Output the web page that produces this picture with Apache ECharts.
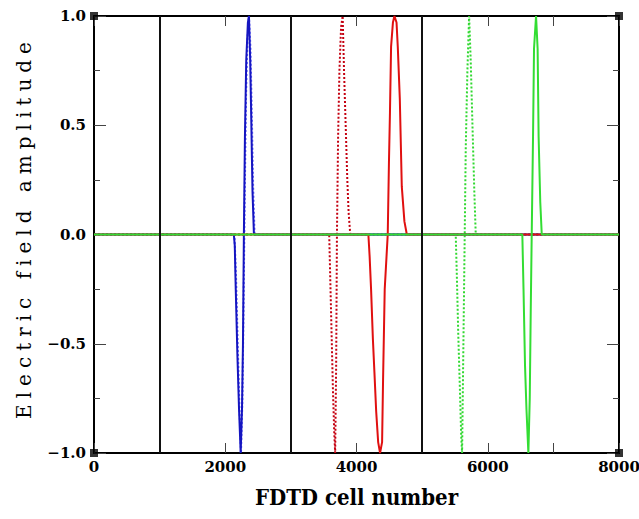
<!DOCTYPE html>
<html><head><meta charset="utf-8">
<script src="https://cdn.jsdelivr.net/npm/echarts@6/dist/echarts.min.js"></script>
<style>html,body{margin:0;padding:0;background:#fff}#c{width:639px;height:519px}</style>
</head><body><div id="c"></div>
<script>
const xMin = 0, xMax = 8000, yMin = -1, yMax = 1;
const xTitle = 'FDTD cell number';
const yTitle = 'Electric field amplitude';
const boundaries = [1000, 3000, 5000];
const corners = [[0, 1], [8000, 1], [0, -1], [8000, -1]];

const blueSolidX = [2131, 2145, 2160, 2185, 2210, 2235, 2255, 2270, 2284, 2300, 2320, 2345, 2361, 2380, 2395, 2415, 2437];
const blueSolidY = [0, -0.05, -0.25, -0.55, -0.8, -1.0, -0.8, -0.5, 0, 0.45, 0.8, 0.97, 1.0, 0.8, 0.55, 0.2, 0];
const blueDotX = [2140, 2165, 2190, 2215, 2240, 2262, 2280, 2298, 2318, 2340, 2362, 2385, 2405, 2425, 2447];
const blueDotY = [0, -0.2, -0.5, -0.78, -1.0, -0.75, -0.3, 0.2, 0.65, 0.9, 1.0, 0.85, 0.55, 0.22, 0];
const redDotX = [3584, 3600, 3620, 3640, 3660, 3675, 3690, 3702, 3720, 3740, 3765, 3789, 3810, 3835, 3860, 3880, 3905];
const redDotY = [0, -0.2, -0.45, -0.7, -0.9, -1.0, -0.6, 0, 0.45, 0.75, 0.95, 1.0, 0.75, 0.5, 0.25, 0.1, 0];
const redSolidX = [4181, 4200, 4222, 4250, 4273, 4300, 4330, 4359, 4390, 4405, 4430, 4476, 4495, 4510, 4527, 4555, 4578, 4610, 4629, 4660, 4690, 4730, 4767];
const redSolidY = [0, -0.1, -0.25, -0.48, -0.63, -0.81, -0.95, -1.0, -0.95, -0.66, -0.25, 0, 0.34, 0.56, 0.86, 0.97, 1.0, 0.97, 0.86, 0.62, 0.22, 0.06, 0];
const greenDotX = [5512, 5530, 5550, 5575, 5595, 5609, 5625, 5649, 5665, 5690, 5716, 5740, 5767, 5795, 5817];
const greenDotY = [0, -0.2, -0.45, -0.7, -0.92, -1.0, -0.6, 0, 0.4, 0.75, 1.0, 0.8, 0.5, 0.2, 0];
const greenSolidX = [6527, 6545, 6568, 6590, 6619, 6640, 6655, 6670, 6690, 6705, 6736, 6760, 6775, 6800, 6823];
const greenSolidY = [0, -0.25, -0.6, -0.8, -1.0, -0.75, -0.35, 0, 0.45, 0.85, 1.0, 0.85, 0.45, 0.15, 0];

function pts(xs, ys) {
  const d = [[xMin, 0]];
  xs.forEach((x, i) => d.push([x, ys[i]]));
  d.push([xMax, 0]);
  return d;
}

const chart = echarts.init(document.getElementById('c'), null, {renderer: 'svg'});
const lab = {fontFamily: 'DejaVu Serif', fontWeight: 'bold', fontSize: 15, color: '#000'};
const tickStyle = {color: '#444', width: 1};

function xAx(pos, main) {
  return {
    type: 'value', min: xMin, max: xMax, interval: 2000, position: pos,
    axisLine: {onZero: false, lineStyle: {color: '#000', width: 2}},
    axisTick: {inside: true, length: 10, lineStyle: tickStyle},
    minorTick: {show: true, splitNumber: 2, length: 10, lineStyle: tickStyle},
    splitLine: {show: false}, minorSplitLine: {show: false},
    axisLabel: main ? Object.assign({margin: 6, formatter: v => String(v)}, lab) : {show: false},
    name: main ? xTitle : '', nameLocation: 'middle', nameGap: 33,
    nameTextStyle: {fontFamily: 'DejaVu Serif Condensed, DejaVu Serif', fontWeight: 'bold', fontSize: 22, color: '#000'}
  };
}
function yAx(pos, main) {
  return {
    type: 'value', min: yMin, max: yMax, interval: 0.5, position: pos,
    axisLine: {onZero: false, lineStyle: {color: '#000', width: 2}},
    axisTick: {inside: true, length: 12, lineStyle: tickStyle},
    minorTick: {show: true, splitNumber: 2, length: 6, lineStyle: tickStyle},
    splitLine: {show: false}, minorSplitLine: {show: false},
    axisLabel: main ? Object.assign({margin: 8, formatter: v => v.toFixed(1).replace('-', '\u2212')}, lab) : {show: false},
    name: main ? yTitle : '', nameLocation: 'middle', nameGap: 60,
    nameTextStyle: {fontFamily: 'DejaVu Serif', fontSize: 20, color: '#000', padding: [0, 0, 0, 14]}
  };
}

function wave(data, color, type, width, z) {
  return {type: 'line', data: data, symbol: 'none', z: z, silent: true,
    lineStyle: {color: color, type: type, width: width}};
}

chart.setOption({
  animation: false,
  grid: {left: 94, right: 20, top: 16, bottom: 66, containLabel: false, outerBoundsMode: 'none'},
  xAxis: [xAx('bottom', true), xAx('top', false)],
  yAxis: [yAx('left', true), yAx('right', false)],
  series: [
    {type: 'line', data: [], z: 1, silent: true,
      markLine: {symbol: 'none', silent: true, animation: false, label: {show: false},
        lineStyle: {color: '#111', type: 'solid', width: 2},
        data: boundaries.map(x => ({xAxis: x}))}},
    wave(pts(blueDotX, blueDotY), '#6a6aff', 'dotted', 2, 2),
    wave(pts(blueSolidX, blueSolidY), '#1515c0', 'solid', 2, 3),
    wave(pts(redDotX, redDotY), '#c40010', 'dotted', 2, 2),
    wave(pts(redSolidX, redSolidY), '#e01010', 'solid', 2, 3),
    wave(pts(greenDotX, greenDotY), '#30d830', 'dotted', 2, 2),
    wave(pts(greenSolidX, greenSolidY), '#33dd33', 'solid', 2, 4),
    {type: 'scatter', data: corners, symbol: 'rect', symbolSize: 8, z: 5, silent: true,
      itemStyle: {color: '#000'}}
  ]
});

function spaceTitle() {
  document.querySelectorAll('#c svg text').forEach(t => {
    if (t.textContent === yTitle) t.style.letterSpacing = '6px';
  });
}
spaceTitle();
chart.on('finished', spaceTitle);
setTimeout(spaceTitle, 50);
</script>
</body></html>
